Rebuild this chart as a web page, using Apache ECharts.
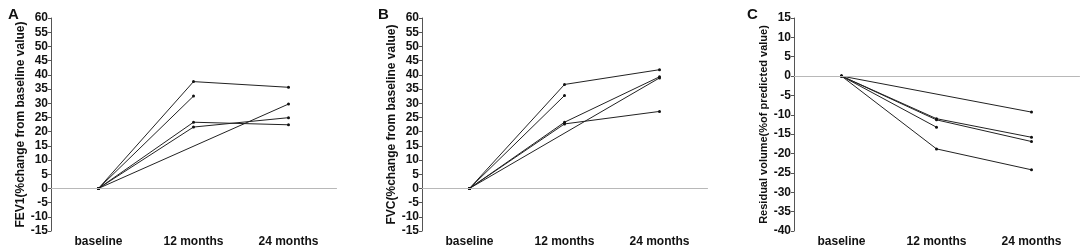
<!DOCTYPE html>
<html>
<head>
<meta charset="utf-8">
<script src="https://cdn.jsdelivr.net/npm/echarts@6/dist/echarts.min.js"></script>
<style>
html,body{margin:0;padding:0;background:#fff;}
#c{width:1084px;height:248px;}
</style>
</head>
<body>
<div id="c"></div>
<script>
// ---- data ----
var categories = ['baseline', '12 months', '24 months'];

// Panel A: FEV1 (% change from baseline value)
var fevP1 = [0, 37.6, 35.6];
var fevP2 = [0, 32.5, null];
var fevP3 = [0, 23.3, 22.4];
var fevP4 = [0, 21.6, 24.9];
var fevP5 = [0, null, 29.7];

// Panel B: FVC (% change from baseline value)
var fvcP1 = [0, 36.6, 41.8];
var fvcP2 = [0, 32.7, null];
var fvcP3 = [0, 23.3, 39.3];
var fvcP4 = [0, 22.7, 27.1];
var fvcP5 = [0, null, 38.9];

// Panel C: Residual volume (% of predicted value)
var rvP1 = [0, null, -9.3];
var rvP2 = [0, -11.0, -15.8];
var rvP3 = [0, -11.3, -16.9];
var rvP4 = [0, -13.2, null];
var rvP5 = [0, -18.8, -24.2];

var panelLetters = ['A', 'B', 'C'];
var axisNames = ['FEV1(%change from baseline value)', 'FVC(%change from baseline value)', 'Residual volume(%of predicted value)'];
var yMins = [-15, -15, -40];
var yMaxs = [60, 60, 15];
var panelSeries = [
  [fevP1, fevP2, fevP3, fevP4, fevP5],
  [fvcP1, fvcP2, fvcP3, fvcP4, fvcP5],
  [rvP1, rvP2, rvP3, rvP4, rvP5]
];

// ---- layout ----
var gridLefts = [51, 422, 794];
var letterLefts = [3, 373, 742];
var nameSizes = [12, 12, 11];
var gridWidth = 285;
var FONT = 'Liberation Sans, Arial, sans-serif';
var axisColor = '#555';

var grids = [], xAxes = [], yAxes = [], series = [], titles = [];
panelLetters.forEach(function (letter, i) {
  grids.push({left: gridLefts[i], top: 18, width: gridWidth, bottom: 17});
  xAxes.push({
    type: 'category', gridIndex: i, data: categories, boundaryGap: true,
    axisLine: {lineStyle: {color: axisColor, width: 1}},
    axisTick: {alignWithLabel: true, length: 3, lineStyle: {color: axisColor}},
    axisLabel: {color: '#111', fontWeight: 'bold', fontSize: 12, fontFamily: FONT, margin: 5},
    splitLine: {show: false}
  });
  yAxes.push({
    type: 'value', gridIndex: i, min: yMins[i], max: yMaxs[i], interval: 5,
    name: axisNames[i], nameLocation: 'middle', nameGap: 24, nameRotate: 90,
    nameTextStyle: {color: '#111', fontWeight: 'bold', fontSize: nameSizes[i], fontFamily: FONT},
    axisLine: {show: true, lineStyle: {color: axisColor, width: 1}},
    axisTick: {show: true, length: 3, lineStyle: {color: axisColor}},
    axisLabel: {color: '#111', fontWeight: 'bold', fontSize: 12, fontFamily: FONT, margin: 3},
    splitLine: {show: false}
  });
  titles.push({
    text: letter, left: letterLefts[i], top: 2,
    textStyle: {fontSize: 15, fontWeight: 'bold', color: '#111', fontFamily: FONT}
  });
  panelSeries[i].forEach(function (d, k) {
    var s = {
      type: 'line', xAxisIndex: i, yAxisIndex: i, data: d,
      connectNulls: true, symbol: 'circle', symbolSize: 3, showSymbol: true,
      lineStyle: {color: '#222', width: 1},
      itemStyle: {color: '#111'},
      emphasis: {disabled: true}, animation: false, z: 3
    };
    if (k === 0) {
      s.markLine = {
        silent: true, symbol: 'none', label: {show: false},
        lineStyle: {color: '#b8b8b8', type: 'solid', width: 1},
        data: [{yAxis: 0}], animation: false
      };
    }
    series.push(s);
  });
});

var chart = echarts.init(document.getElementById('c'), null, {renderer: 'canvas'});
chart.setOption({
  animation: false,
  backgroundColor: '#fff',
  title: titles,
  grid: grids,
  xAxis: xAxes,
  yAxis: yAxes,
  series: series
});
</script>
</body>
</html>
